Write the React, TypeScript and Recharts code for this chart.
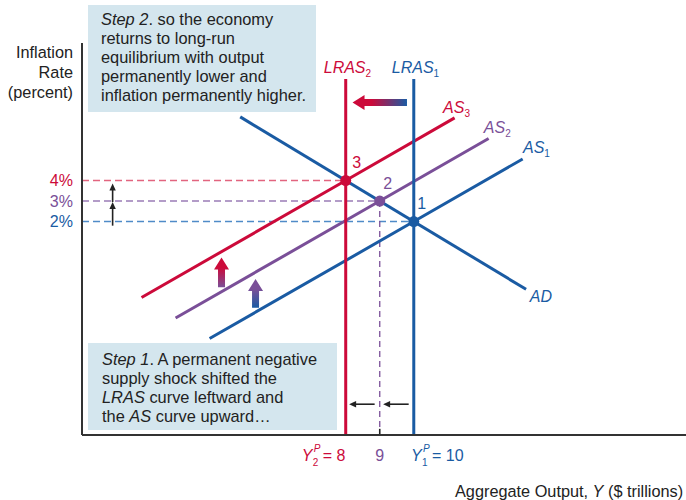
import React from "react"
import {
  ComposedChart,
  Line,
  XAxis,
  YAxis,
  ReferenceLine,
  ReferenceDot,
} from "recharts"

const RED = "#cc0a3a"
const BLUE = "#1a5ba3"
const PURPLE = "#7a4f98"
const RED_DASH = "#e2657f"
const PURPLE_DASH = "#9a7cb6"
const BLUE_DASH = "#4f8bc8"
const BOX = "#d4e6ee"
const INK = "#333"
const FONT = "'Liberation Sans', Arial, Helvetica, sans-serif"

// axes: output Y ($ trillions) and inflation (percent)
const outputDomain = [0.25, 18]
const inflationDomain = [-8.4, 10.7]
const outputTicks = [8, 9, 10]
const inflationTicks = [2, 3, 4]

// curves
const adCurve = [{ x: 4.9, y: 7.1 }, { x: 13.3, y: -1.3 }]
const as1Curve = [{ x: 4.0, y: -3.7 }, { x: 10, y: 2 }, { x: 13.2, y: 5.05 }]
const as2Curve = [{ x: 3.0, y: -2.7 }, { x: 9, y: 3 }, { x: 12.2, y: 6.05 }]
const as3Curve = [{ x: 2.0, y: -1.7 }, { x: 8, y: 4 }, { x: 11.2, y: 7.05 }]
const lras1Line = [{ x: 10, y: -8.4 }, { x: 10, y: 8.95 }]
const lras2Line = [{ x: 8, y: -8.4 }, { x: 8, y: 8.95 }]

// equilibrium points 1, 2, 3
const equilibria = [
  { id: "1", x: 10, y: 2 },
  { id: "2", x: 9, y: 3 },
  { id: "3", x: 8, y: 4 },
]

const pointColor: Record<string, string> = { "1": BLUE, "2": PURPLE, "3": RED }
const pointDx: Record<string, number> = { "1": 8, "2": 8, "3": 11 }
const inflationColor: Record<number, string> = { 2: BLUE, 3: PURPLE, 4: RED }

function InflationTick({ x, y, payload }: any) {
  return (
    <text x={x - 9} y={y + 5.5} textAnchor="end" fill={inflationColor[payload.value]} fontSize={16} fontFamily={FONT}>
      {payload.value}%
    </text>
  )
}

function OutputTick({ x, y, payload }: any) {
  const v = payload.value
  if (v === 9) {
    return (
      <text x={x} y={y + 26} textAnchor="middle" fill={PURPLE} fontSize={16} fontFamily={FONT}>
        9
      </text>
    )
  }
  const color = v === 8 ? RED : BLUE
  const sub = v === 8 ? "2" : "1"
  const x0 = v === 8 ? x - 44 : x - 2.7
  return (
    <g fill={color} fontFamily={FONT}>
      <text x={x0} y={y + 26} fontSize={16} fontStyle="italic">Y</text>
      <text x={x0 + 12} y={y + 17} fontSize={10} fontStyle="italic">P</text>
      <text x={x0 + 11} y={y + 31} fontSize={10}>{sub}</text>
      <text x={x0 + 21} y={y + 26} fontSize={16}>= {v}</text>
    </g>
  )
}

function thickArrow(id: string, head: string, tail: string) {
  return (p: any) => {
    const { x1, y1, x2, y2 } = p
    const len = Math.hypot(x2 - x1, y2 - y1)
    const ux = (x2 - x1) / len
    const uy = (y2 - y1) / len
    const nx = -uy
    const ny = ux
    const w = 3.5
    const hw = 7.5
    const hl = 12
    const bx = x2 - ux * hl
    const by = y2 - uy * hl
    const pts = [
      [x1 + nx * w, y1 + ny * w],
      [bx + nx * w, by + ny * w],
      [bx + nx * hw, by + ny * hw],
      [x2, y2],
      [bx - nx * hw, by - ny * hw],
      [bx - nx * w, by - ny * w],
      [x1 - nx * w, y1 - ny * w],
    ]
    return (
      <g>
        <defs>
          <linearGradient id={id} gradientUnits="userSpaceOnUse" x1={x2} y1={y2} x2={x1} y2={y1}>
            <stop offset="0" stopColor={head} />
            <stop offset="0.35" stopColor={head} />
            <stop offset="1" stopColor={tail} />
          </linearGradient>
        </defs>
        <polygon points={pts.map((q) => q.join(",")).join(" ")} fill={`url(#${id})`} />
      </g>
    )
  }
}

function thinArrow(p: any) {
  const { x1, y1, x2, y2 } = p
  const len = Math.hypot(x2 - x1, y2 - y1)
  const ux = (x2 - x1) / len
  const uy = (y2 - y1) / len
  const nx = -uy
  const ny = ux
  const hl = 7
  const hw = 3.2
  const bx = x2 - ux * hl
  const by = y2 - uy * hl
  return (
    <g>
      <line x1={x1} y1={y1} x2={bx + ux} y2={by + uy} stroke="#222" strokeWidth={1.6} />
      <polygon
        points={`${x2},${y2} ${bx + nx * hw},${by + ny * hw} ${bx - nx * hw},${by - ny * hw}`}
        fill="#222"
      />
    </g>
  )
}

function tag(main: string, sub: string | null, color: string, anchor: string, italic = true) {
  return (p: any) => (
    <text x={p.cx} y={p.cy} textAnchor={anchor} fill={color} fontSize={16} fontFamily={FONT}>
      <tspan fontStyle={italic ? "italic" : "normal"}>{main}</tspan>
      {sub && (
        <tspan fontSize={10} dy={4}>
          {sub}
        </tspan>
      )}
    </text>
  )
}

const lineProps = {
  dataKey: "y",
  dot: false,
  activeDot: false,
  strokeWidth: 3,
  isAnimationActive: false,
  legendType: "none" as const,
}

export default function App() {
  return (
    <div style={{ position: "absolute", left: 0, top: 0, width: 686, height: 500, fontFamily: FONT, background: "#fff" }}>
      <ComposedChart width={686} height={500} margin={{ top: 43, right: 0, bottom: 35, left: 62 }}>
        <XAxis
          type="number"
          dataKey="x"
          domain={outputDomain}
          allowDataOverflow
          ticks={outputTicks}
          interval={0}
          tick={<OutputTick />}
          tickLine={false}
          tickSize={0}
          tickMargin={0}
          height={30}
          axisLine={{ stroke: INK, strokeWidth: 2 }}
        />
        <YAxis
          type="number"
          dataKey="y"
          domain={inflationDomain}
          allowDataOverflow
          ticks={inflationTicks}
          interval={0}
          tick={<InflationTick />}
          tickLine={false}
          tickSize={0}
          tickMargin={0}
          width={20}
          axisLine={{ stroke: INK, strokeWidth: 2 }}
        />

        {/* dashed guides */}
        <ReferenceLine segment={[{ x: 0.25, y: 4 }, { x: 8, y: 4 }]} stroke={RED_DASH} strokeWidth={1.5} strokeDasharray="7 4" ifOverflow="visible" />
        <ReferenceLine segment={[{ x: 0.25, y: 3 }, { x: 9, y: 3 }]} stroke={PURPLE_DASH} strokeWidth={1.5} strokeDasharray="7 4" ifOverflow="visible" />
        <ReferenceLine segment={[{ x: 0.25, y: 2 }, { x: 10, y: 2 }]} stroke={BLUE_DASH} strokeWidth={1.5} strokeDasharray="7 4" ifOverflow="visible" />
        <ReferenceLine segment={[{ x: 9, y: 3 }, { x: 9, y: -8.1 }]} stroke={PURPLE} strokeWidth={1.3} strokeDasharray="6 4" ifOverflow="visible" />
        <ReferenceLine segment={[{ x: 9, y: -8.4 }, { x: 9, y: -8.1 }]} stroke="#222" strokeWidth={1.6} ifOverflow="visible" />

        <Line data={as1Curve} stroke={BLUE} {...lineProps} />
        <Line data={as2Curve} stroke={PURPLE} {...lineProps} />
        <Line data={as3Curve} stroke={RED} {...lineProps} />
        <Line data={adCurve} stroke={BLUE} {...lineProps} />
        <Line data={lras1Line} stroke={BLUE} {...lineProps} />
        <Line data={lras2Line} stroke={RED} {...lineProps} />

        {/* shift arrows */}
        <ReferenceLine segment={[{ x: 9.8, y: 7.8 }, { x: 8.2, y: 7.8 }]} shape={thickArrow("gLras", RED, BLUE)} ifOverflow="visible" />
        <ReferenceLine segment={[{ x: 4.35, y: -1.2 }, { x: 4.35, y: 0.25 }]} shape={thickArrow("gUp1", RED, PURPLE)} ifOverflow="visible" />
        <ReferenceLine segment={[{ x: 5.35, y: -2.2 }, { x: 5.35, y: -0.8 }]} shape={thickArrow("gUp2", PURPLE, BLUE)} ifOverflow="visible" />
        <ReferenceLine segment={[{ x: 1.15, y: 1.8 }, { x: 1.15, y: 2.95 }]} shape={thinArrow} ifOverflow="visible" />
        <ReferenceLine segment={[{ x: 1.15, y: 2.95 }, { x: 1.15, y: 3.85 }]} shape={thinArrow} ifOverflow="visible" />
        <ReferenceLine segment={[{ x: 9.85, y: -6.9 }, { x: 9.1, y: -6.9 }]} shape={thinArrow} ifOverflow="visible" />
        <ReferenceLine segment={[{ x: 8.85, y: -6.9 }, { x: 8.1, y: -6.9 }]} shape={thinArrow} ifOverflow="visible" />

        {equilibria.map((e) => (
          <ReferenceDot key={e.id} x={e.x} y={e.y} r={5.5} fill={pointColor[e.id]} stroke="none" ifOverflow="visible" />
        ))}
        {equilibria.map((e) => (
          <ReferenceDot
            key={"l" + e.id}
            x={e.x}
            y={e.y}
            r={0}
            ifOverflow="visible"
            shape={(p: any) => (
              <text x={p.cx + pointDx[e.id]} y={p.cy - 12.5} textAnchor="middle" fill={pointColor[e.id]} fontSize={16} fontFamily={FONT}>
                {e.id}
              </text>
            )}
          />
        ))}

        {/* curve labels */}
        <ReferenceDot x={8.05} y={9.24} r={0} ifOverflow="visible" shape={tag("LRAS", "2", RED, "middle")} />
        <ReferenceDot x={10.05} y={9.24} r={0} ifOverflow="visible" shape={tag("LRAS", "1", BLUE, "middle")} />
        <ReferenceDot x={10.86} y={7.29} r={0} ifOverflow="visible" shape={tag("AS", "3", RED, "start")} />
        <ReferenceDot x={12.06} y={6.32} r={0} ifOverflow="visible" shape={tag("AS", "2", PURPLE, "start")} />
        <ReferenceDot x={13.21} y={5.34} r={0} ifOverflow="visible" shape={tag("AS", "1", BLUE, "start")} />
        <ReferenceDot x={13.41} y={-1.92} r={0} ifOverflow="visible" shape={tag("AD", null, BLUE, "start")} />
      </ComposedChart>

      <div style={{ position: "absolute", left: 0, top: 42, width: 73, textAlign: "right", fontSize: 16.3, lineHeight: "20px", color: "#222" }}>
        Inflation<br />Rate<br />(percent)
      </div>
      <div style={{ position: "absolute", left: 455, top: 482, fontSize: 16.3, lineHeight: "19px", color: "#222", whiteSpace: "nowrap" }}>
        Aggregate Output, <i>Y</i> ($ trillions)
      </div>

      <div
        style={{
          position: "absolute", left: 88, top: 5, width: 228, height: 107, boxSizing: "border-box",
          padding: "5px 0 0 13px", background: BOX, fontSize: 16.4, lineHeight: "19px", color: "#222", whiteSpace: "nowrap",
        }}
      >
        <i>Step 2</i>. so the economy<br />
        returns to long-run<br />
        equilibrium with output<br />
        permanently lower and<br />
        inflation permanently higher.
      </div>
      <div
        style={{
          position: "absolute", left: 88, top: 343, width: 249, height: 87, boxSizing: "border-box",
          padding: "6.5px 0 0 14px", background: BOX, fontSize: 16.4, lineHeight: "19px", color: "#222", whiteSpace: "nowrap",
        }}
      >
        <i>Step 1</i>. A permanent negative<br />
        supply shock shifted the<br />
        <i>LRAS</i> curve leftward and<br />
        the <i>AS</i> curve upward…
      </div>
    </div>
  )
}
